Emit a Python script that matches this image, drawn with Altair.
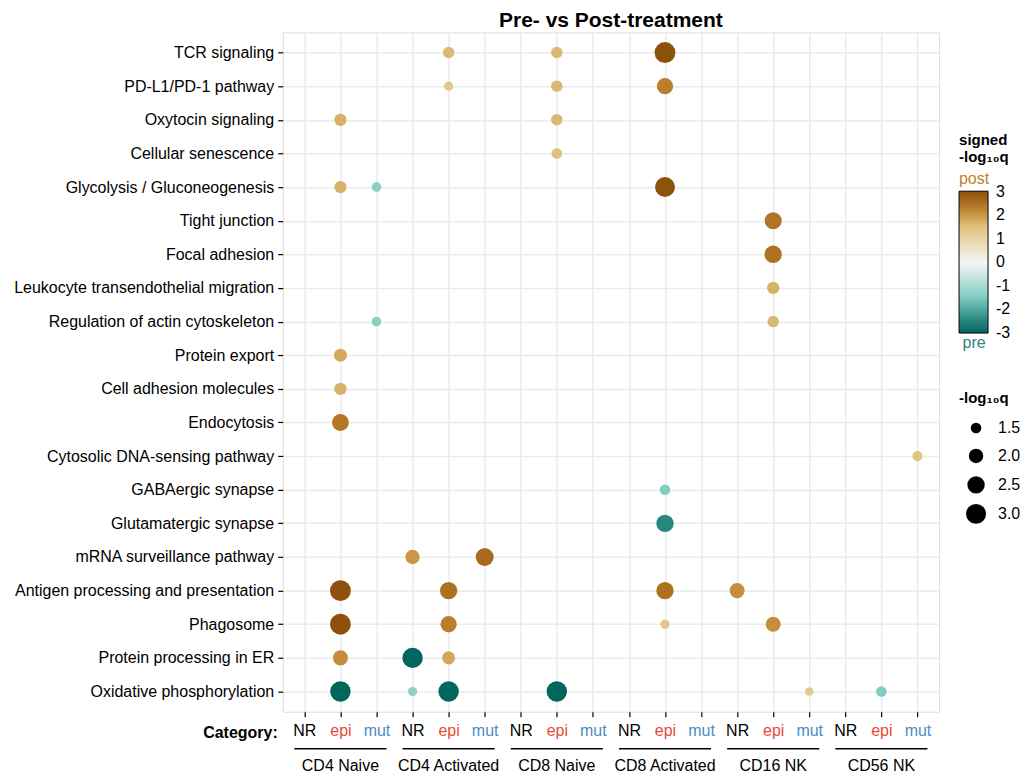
import altair as alt
import pandas as pd

pathways = [
    "TCR signaling", "PD-L1/PD-1 pathway", "Oxytocin signaling", "Cellular senescence",
    "Glycolysis / Gluconeogenesis", "Tight junction", "Focal adhesion",
    "Leukocyte transendothelial migration", "Regulation of actin cytoskeleton",
    "Protein export", "Cell adhesion molecules", "Endocytosis",
    "Cytosolic DNA-sensing pathway", "GABAergic synapse", "Glutamatergic synapse",
    "mRNA surveillance pathway", "Antigen processing and presentation", "Phagosome",
    "Protein processing in ER", "Oxidative phosphorylation",
]
cell_types = ["CD4 Naive", "CD4 Activated", "CD8 Naive", "CD8 Activated", "CD16 NK", "CD56 NK"]
categories = ["NR", "epi", "mut"]

# significant points: pathway, cell type, category, signed -log10 q (+ post, - pre)
pt_pathway = [
    "TCR signaling", "TCR signaling", "TCR signaling",
    "PD-L1/PD-1 pathway", "PD-L1/PD-1 pathway", "PD-L1/PD-1 pathway",
    "Oxytocin signaling", "Oxytocin signaling",
    "Cellular senescence",
    "Glycolysis / Gluconeogenesis", "Glycolysis / Gluconeogenesis", "Glycolysis / Gluconeogenesis",
    "Tight junction", "Focal adhesion", "Leukocyte transendothelial migration",
    "Regulation of actin cytoskeleton", "Regulation of actin cytoskeleton",
    "Protein export", "Cell adhesion molecules", "Endocytosis",
    "Cytosolic DNA-sensing pathway", "GABAergic synapse", "Glutamatergic synapse",
    "mRNA surveillance pathway", "mRNA surveillance pathway",
    "Antigen processing and presentation", "Antigen processing and presentation",
    "Antigen processing and presentation", "Antigen processing and presentation",
    "Phagosome", "Phagosome", "Phagosome", "Phagosome",
    "Protein processing in ER", "Protein processing in ER", "Protein processing in ER",
    "Oxidative phosphorylation", "Oxidative phosphorylation", "Oxidative phosphorylation",
    "Oxidative phosphorylation", "Oxidative phosphorylation", "Oxidative phosphorylation",
]
pt_cell = [
    "CD4 Activated", "CD8 Naive", "CD8 Activated",
    "CD4 Activated", "CD8 Naive", "CD8 Activated",
    "CD4 Naive", "CD8 Naive",
    "CD8 Naive",
    "CD4 Naive", "CD4 Naive", "CD8 Activated",
    "CD16 NK", "CD16 NK", "CD16 NK",
    "CD4 Naive", "CD16 NK",
    "CD4 Naive", "CD4 Naive", "CD4 Naive",
    "CD56 NK", "CD8 Activated", "CD8 Activated",
    "CD4 Activated", "CD4 Activated",
    "CD4 Naive", "CD4 Activated", "CD8 Activated", "CD16 NK",
    "CD4 Naive", "CD4 Activated", "CD8 Activated", "CD16 NK",
    "CD4 Naive", "CD4 Activated", "CD4 Activated",
    "CD4 Naive", "CD4 Activated", "CD4 Activated", "CD8 Naive", "CD16 NK", "CD56 NK",
]
pt_cat = [
    "epi", "epi", "epi",
    "epi", "epi", "epi",
    "epi", "epi",
    "epi",
    "epi", "mut", "epi",
    "epi", "epi", "epi",
    "mut", "epi",
    "epi", "epi", "epi",
    "mut", "epi", "epi",
    "NR", "mut",
    "epi", "epi", "epi", "NR",
    "epi", "epi", "epi", "epi",
    "epi", "NR", "epi",
    "epi", "NR", "epi", "epi", "mut", "epi",
]
pt_signed = [
    1.6, 1.6, 3.2,
    1.35, 1.6, 2.3,
    1.7, 1.6,
    1.5,
    1.7, -1.4, 3.0,
    2.45, 2.5, 1.7,
    -1.4, 1.6,
    1.8, 1.7, 2.4,
    1.45, -1.5, -2.5,
    2.0, 2.6,
    3.2, 2.5, 2.5, 2.1,
    3.2, 2.3, 1.35, 2.1,
    2.1, -3.1, 1.8,
    -3.1, -1.35, -3.1, -3.1, 1.3, -1.5,
]

columns = [f"{c}|{k}" for c in cell_types for k in categories]

df = pd.DataFrame({
    "pathway": pt_pathway,
    "col": [f"{c}|{k}" for c, k in zip(pt_cell, pt_cat)],
    "signed": pt_signed,
})
df["mlq"] = df["signed"].abs()

W, H = 657, 680
FONT = "Liberation Sans"

x_scale = alt.Scale(domain=columns, type="point", padding=0.6)

label_color_expr = (
    "indexof(datum.value, '|epi') >= 0 ? '#e64b35' : "
    "(indexof(datum.value, '|mut') >= 0 ? '#4d8cc6' : 'black')"
)

points = alt.Chart(df).mark_circle(opacity=1).encode(
    x=alt.X("col:N", scale=x_scale, title=None,
            axis=alt.Axis(labelExpr="split(datum.label, '|')[1]",
                          labelColor={"expr": label_color_expr},
                          labelAngle=0, labelFontSize=16, labelPadding=6,
                          tickColor="black", tickSize=5, tickWidth=1.2,
                          grid=True, gridColor="#ebebeb", gridWidth=1.5,
                          domain=False, labelFont=FONT)),
    y=alt.Y("pathway:N", scale=alt.Scale(domain=pathways, type="point", padding=0.6),
            title=None,
            axis=alt.Axis(labelFontSize=16, labelColor="black", labelPadding=4,
                          tickColor="black", tickSize=5, tickWidth=1.2,
                          grid=True, gridColor="#ebebeb", gridWidth=1.5,
                          domain=False, labelFont=FONT, labelLimit=400)),
    color=alt.Color("signed:Q",
                    scale=alt.Scale(domain=[-3.02, -2.25, -1.5, 0, 1.5, 2.25, 3.02],
                                    range=["#01665e", "#35978f", "#80cdc1", "#f5f5f5",
                                           "#dfc27d", "#bf812d", "#8c510a"],
                                    clamp=True),
                    legend=alt.Legend(title=["signed", "-log\u2081\u2080q"],
                                      orient="none", legendX=W + 20, legendY=101,
                                      values=[-3, -2, -1, 0, 1, 2, 3],
                                      labelOverlap=False,
                                      labelExpr="datum.value < 0 ? '-' + abs(datum.value) : '' + datum.value",
                                      gradientLength=142, gradientThickness=29,
                                      gradientStrokeColor="black", gradientStrokeWidth=1,
                                      titlePadding=26, titleFontSize=15, titleFont=FONT,
                                      titleFontWeight="bold", titleColor="black",
                                      labelFontSize=16, labelFont=FONT, labelColor="black",
                                      labelOffset=8, padding=0, direction="vertical")),
    size=alt.Size("mlq:Q",
                  scale=alt.Scale(domain=[1.3, 3.2], range=[75, 436], zero=False),
                  legend=alt.Legend(title="-log\u2081\u2080q", orient="none",
                                    legendX=W + 20, legendY=359,
                                    values=[1.5, 2.0, 2.5, 3.0], format=".1f",
                                    symbolFillColor="black", symbolStrokeColor="black",
                                    symbolStrokeWidth=0, symbolOpacity=1, symbolType="circle",
                                    symbolOffset=7, gridAlign="all",
                                    titleFontSize=15, titleFont=FONT, titleFontWeight="bold",
                                    titleColor="black", titlePadding=14,
                                    labelFontSize=16, labelFont=FONT, labelColor="black",
                                    labelOffset=12, rowPadding=8, padding=0)),
)

group_df = pd.DataFrame({
    "group": cell_types,
    "mid": [f"{c}|epi" for c in cell_types],
    "start": [f"{c}|NR" for c in cell_types],
    "end": [f"{c}|mut" for c in cell_types],
})

underline = alt.Chart(group_df).mark_rule(color="black", strokeWidth=1.5,
                                          xOffset=-10, x2Offset=10).encode(
    x=alt.X("start:N", scale=x_scale),
    x2="end:N",
    y=alt.value(H + 37),
)

group_text = alt.Chart(group_df).mark_text(fontSize=16, font=FONT, color="black",
                                           baseline="middle").encode(
    x=alt.X("mid:N", scale=x_scale),
    y=alt.value(H + 54),
    text="group:N",
)

cat_df = pd.DataFrame({"t": ["Category:"]})
cat_text = alt.Chart(cat_df).mark_text(fontSize=16, font=FONT, fontWeight="bold",
                                       color="black", align="right", baseline="middle").encode(
    x=alt.value(-5),
    y=alt.value(H + 21),
    text="t:N",
)

pp_df = pd.DataFrame({"t": ["post", "pre"]})
post_text = alt.Chart(pp_df).transform_filter("datum.t == 'post'").mark_text(
    fontSize=16, font=FONT, color="#bf812d", align="center", baseline="middle").encode(
    x=alt.value(W + 35), y=alt.value(147), text="t:N")
pre_text = alt.Chart(pp_df).transform_filter("datum.t == 'pre'").mark_text(
    fontSize=16, font=FONT, color="#2a857a", align="center", baseline="middle").encode(
    x=alt.value(W + 35), y=alt.value(311), text="t:N")

chart = alt.layer(points, underline, group_text, cat_text, post_text, pre_text).properties(
    width=W, height=H,
    title=alt.TitleParams("Pre- vs Post-treatment", fontSize=21, font=FONT,
                          fontWeight="bold", color="black", anchor="middle",
                          offset=1),
).configure_view(stroke="black", strokeWidth=1.5).configure(
    padding={"left": 5, "top": 2, "right": 0, "bottom": 0},
    background="white",
)

chart.save("out.html", embed_options={"renderer": "svg", "actions": False})
